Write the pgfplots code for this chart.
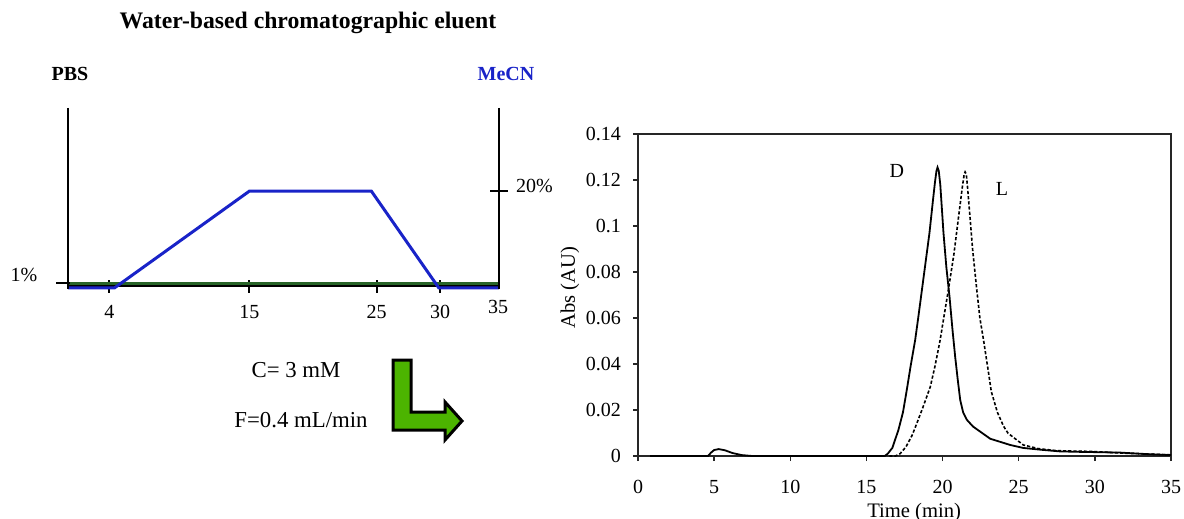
\documentclass[border=0pt]{standalone}
\usepackage{fontspec}
\setmainfont{Liberation Serif}
\usepackage{pgfplots}
\pgfplotsset{compat=1.18}
\definecolor{mecnblue}{RGB}{25,35,200}
\definecolor{pbsgreen}{RGB}{40,100,40}
\definecolor{arrowgreen}{RGB}{76,180,0}

\pgfplotstableread{
t v
0.8 0
4.6 0
4.8 0.0015
5.0 0.0026
5.3 0.003
5.7 0.0025
6.2 0.0013
6.8 0.0004
7.5 0
16.2 0
16.4 0.001
16.7 0.0035
17.1 0.0113
17.4 0.019
17.65 0.0287
17.9 0.039
18.2 0.0504
18.4 0.060
18.6 0.070
18.9 0.085
19.14 0.097
19.35 0.110
19.5 0.119
19.6 0.1240
19.67 0.1255
19.75 0.1240
19.85 0.118
20.06 0.097
20.25 0.082
20.46 0.069
20.65 0.055
20.83 0.043
21.0 0.033
21.16 0.0243
21.35 0.019
21.6 0.0157
22.0 0.0128
22.47 0.0106
23.13 0.0075
24.44 0.0048
25.3 0.0035
26.5 0.0027
27.7 0.0020
29.0 0.0018
31.6 0.0015
33.5 0.0008
35 0.0004
}\dataD

\pgfplotstableread{
t v
16.5 0
16.9 0
17.21 0.001
17.6 0.004
18.0 0.009
18.31 0.0142
18.7 0.021
19.19 0.030
19.5 0.039
19.84 0.0504
20.1 0.061
20.4 0.073
20.75 0.088
21.05 0.104
21.3 0.117
21.42 0.1225
21.48 0.1235
21.56 0.1225
21.65 0.116
21.8 0.104
21.97 0.090
22.25 0.072
22.45 0.060
22.69 0.0504
23.0 0.037
23.2 0.028
23.6 0.019
24.0 0.013
24.3 0.0099
25.3 0.0048
26.3 0.0032
27.5 0.0023
29.7 0.0020
32.0 0.0012
35 0.0005
}\dataL

\begin{document}
\begin{tikzpicture}
\useasboundingbox (0pt,0pt) rectangle (592pt,-259.5pt);

% ---------- left: gradient schematic ----------
\begin{axis}[
  at={(34pt,-143pt)}, anchor=south west,
  scale only axis, width=215.5pt, height=89pt,
  xmin=0.75, xmax=34.63, ymin=0.4, ymax=37.2,
  axis x line=bottom, axis y line=none,
  x axis line style={-, line width=1.2pt, black},
  xtick={4,15,25,30}, xticklabels={4,15,25,30},
  tick align=center, major tick length=6.5pt,
  x tick style={line width=1pt, black},
  ytick=\empty,
  xticklabel style={font=\fontsize{10}{12}\selectfont, yshift=-3pt},
  clip=false,
]
\addplot[pbsgreen, line width=1.5pt] coordinates {(0.75,1) (34.63,1)};
\addplot[mecnblue, line width=1.5pt] coordinates {(0.75,0) (4.4,0) (15,20) (24.6,20) (29.9,0) (34.63,0)};
\draw[line width=1pt] (axis cs:0.75,37.2) -- (axis cs:0.75,-0.2);
\draw[line width=1pt] (axis cs:34.63,37.2) -- (axis cs:34.63,-0.2);
\draw[line width=1pt] (axis cs:0.75,1) ++(-6pt,0pt) -- ++(7pt,0pt);
\draw[line width=1pt] (axis cs:34.63,20) ++(-4.5pt,0pt) -- ++(9pt,0pt);
\end{axis}

\node[font=\fontsize{11.85}{14}\selectfont\bfseries] at (154pt,-11.5pt) {Water-based chromatographic eluent};
\node[font=\fontsize{10}{12}\selectfont\bfseries] at (35pt,-37pt) {PBS};
\node[font=\fontsize{10}{12}\selectfont\bfseries, text=mecnblue] at (253pt,-37pt) {MeCN};
\node[font=\fontsize{10}{12}\selectfont] at (12pt,-137.5pt) {1\%};
\node[font=\fontsize{10}{12}\selectfont, anchor=west] at (254.5pt,-93pt) {20\%};
\node[font=\fontsize{10}{12}\selectfont] at (249pt,-153.5pt) {35};

\node[font=\fontsize{11.4}{13}\selectfont] at (148pt,-185pt) {C= 3 mM};
\node[font=\fontsize{11.4}{13}\selectfont] at (150.5pt,-210pt) {F=0.4 mL/min};
\draw[line width=1.5pt, fill=arrowgreen, line join=miter]
  (196.5pt,-180pt) -- (205.5pt,-180pt) -- (205.5pt,-206pt) -- (222.5pt,-206pt)
  -- (222.5pt,-201pt) -- (231pt,-210.5pt) -- (222.5pt,-220pt) -- (222.5pt,-215pt)
  -- (196.5pt,-215pt) -- cycle;

% ---------- right: chromatogram ----------
\begin{axis}[
  at={(319pt,-228pt)}, anchor=south west,
  scale only axis, width=266.5pt, height=161pt,
  xmin=0, xmax=35, ymin=0, ymax=0.14,
  xtick={0,5,10,15,20,25,30,35},
  ytick={0,0.02,0.04,0.06,0.08,0.1,0.12,0.14},
  tick align=outside, tick pos=left,
  major tick length=2.5pt,
  axis line style={line width=0.8pt, black!85},
  every tick/.style={line width=0.7pt, black!85},
  /pgf/number format/assume math mode=true,
  yticklabel style={/pgf/number format/fixed, /pgf/number format/precision=2, xshift=-2.5pt},
  xticklabel style={yshift=-6pt},
  every tick label/.append style={font=\fontsize{10}{12}\selectfont},
  scaled y ticks=false,
  xlabel={Time (min)}, ylabel={Abs (AU)},
  label style={font=\fontsize{10.3}{12}\selectfont},
  xlabel style={at={(axis description cs:0.518,-0.175)}, anchor=center},
  ylabel style={at={(axis description cs:-0.1276,0.522)}, anchor=center},
]
\addplot[black, line width=0.9pt] table[x=t, y=v] {\dataD};
\addplot[black, line width=0.8pt, dash pattern=on 1.6pt off 1pt] table[x=t, y=v] {\dataL};
\node[font=\fontsize{10}{12}\selectfont] at (axis cs:17,0.124) {D};
\node[font=\fontsize{10}{12}\selectfont] at (axis cs:23.9,0.116) {L};
\end{axis}
\end{tikzpicture}
\end{document}
